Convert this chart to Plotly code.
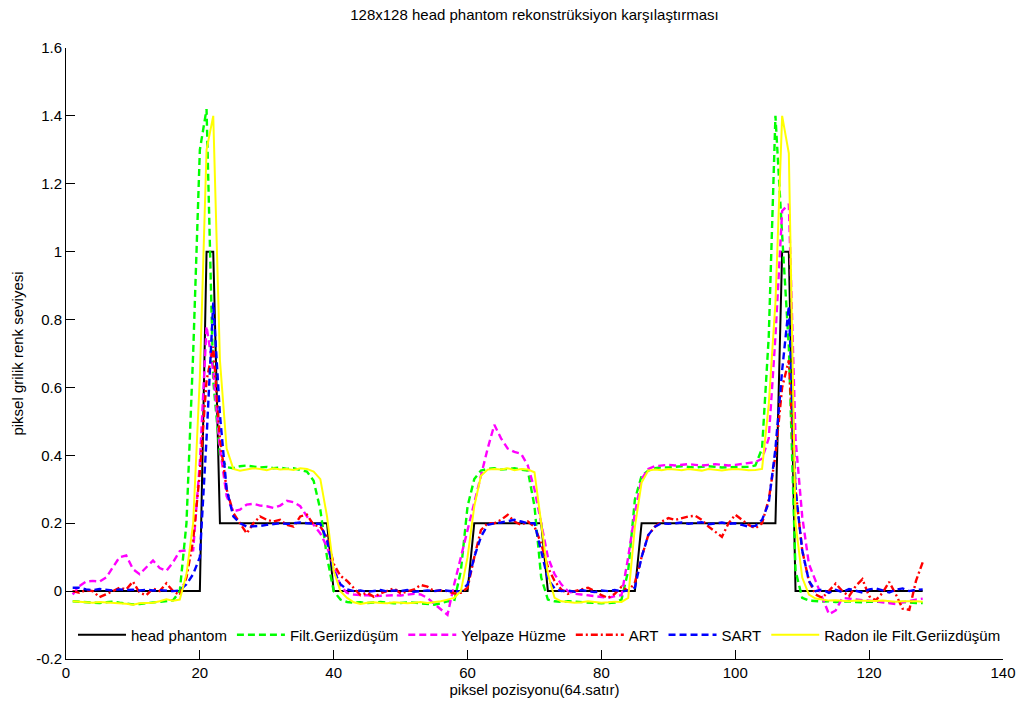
import plotly.graph_objects as go

# Pixel positions along row 64 of the 128x128 image
x_pos = list(range(1, 129))

series_names = ["head phantom", "Filt.Geriizdüşüm", "Yelpaze Hüzme", "ART", "SART",
                "Radon ile Filt.Geriizdüşüm"]

head_phantom = [
    0, 0, 0, 0, 0, 0, 0, 0, 0, 0,
    0, 0, 0, 0, 0, 0, 0, 0, 0, 0,
    1, 1, 0.2, 0.2, 0.2, 0.2, 0.2, 0.2, 0.2, 0.2,
    0.2, 0.2, 0.2, 0.2, 0.2, 0.2, 0.2, 0.2, 0.2, 0,
    0, 0, 0, 0, 0, 0, 0, 0, 0, 0,
    0, 0, 0, 0, 0, 0, 0, 0, 0, 0,
    0.2, 0.2, 0.2, 0.2, 0.2, 0.2, 0.2, 0.2, 0.2, 0.2,
    0.2, 0, 0, 0, 0, 0, 0, 0, 0, 0,
    0, 0, 0, 0, 0, 0.2, 0.2, 0.2, 0.2, 0.2,
    0.2, 0.2, 0.2, 0.2, 0.2, 0.2, 0.2, 0.2, 0.2, 0.2,
    0.2, 0.2, 0.2, 0.2, 0.2, 0.2, 1, 1, 0, 0,
    0, 0, 0, 0, 0, 0, 0, 0, 0, 0,
    0, 0, 0, 0, 0, 0, 0, 0,
]

filt_geriizdusum = [
    -0.030, -0.031, -0.032, -0.034, -0.035, -0.033, -0.031, -0.034, -0.037, -0.039,
    -0.038, -0.036, -0.035, -0.033, -0.030, -0.027, 0.000, 0.200, 0.700, 1.300,
    1.420, 0.620, 0.400, 0.365, 0.362, 0.368, 0.370, 0.366, 0.364, 0.366,
    0.362, 0.364, 0.360, 0.362, 0.358, 0.352, 0.325, 0.240, 0.100, 0.000,
    -0.025, -0.032, -0.034, -0.033, -0.035, -0.034, -0.032, -0.034, -0.036, -0.035,
    -0.033, -0.034, -0.036, -0.038, -0.040, -0.036, -0.030, -0.030, 0.060, 0.250,
    0.330, 0.355, 0.360, 0.362, 0.358, 0.360, 0.362, 0.358, 0.355, 0.250,
    0.040, -0.025, -0.030, -0.032, -0.030, -0.031, -0.033, -0.034, -0.035, -0.036,
    -0.035, -0.034, -0.025, 0.060, 0.270, 0.340, 0.355, 0.362, 0.365, 0.364,
    0.366, 0.368, 0.366, 0.364, 0.366, 0.368, 0.366, 0.364, 0.365, 0.366,
    0.365, 0.366, 0.370, 0.420, 0.750, 1.400, 1.050, 0.720, 0.060, -0.020,
    -0.028, -0.030, -0.031, -0.030, -0.032, -0.031, -0.030, -0.032, -0.033, -0.031,
    -0.032, -0.033, -0.034, -0.033, -0.032, -0.034, -0.035, -0.035,
]

yelpaze_huzme = [
    -0.010, 0.015, 0.028, 0.030, 0.028, 0.040, 0.070, 0.100, 0.105, 0.065,
    0.050, 0.070, 0.090, 0.068, 0.060, 0.085, 0.118, 0.120, 0.120, 0.380,
    0.780, 0.650, 0.420, 0.280, 0.235, 0.240, 0.255, 0.257, 0.252, 0.250,
    0.245, 0.252, 0.266, 0.262, 0.250, 0.220, 0.195, 0.170, 0.130, 0.070,
    0.015, -0.005, -0.010, -0.012, -0.012, -0.015, -0.014, -0.012, -0.012, -0.013,
    -0.010, -0.008, -0.010, -0.020, -0.037, -0.053, -0.070, 0.020, 0.100, 0.180,
    0.260, 0.340, 0.420, 0.490, 0.450, 0.420, 0.410, 0.405, 0.370, 0.300,
    0.200, 0.100, 0.050, 0.020, 0.000, -0.008, -0.010, -0.012, -0.015, -0.018,
    -0.020, -0.015, -0.012, 0.100, 0.230, 0.330, 0.360, 0.368, 0.370, 0.372,
    0.370, 0.372, 0.374, 0.372, 0.370, 0.372, 0.374, 0.372, 0.370, 0.372,
    0.374, 0.376, 0.380, 0.390, 0.450, 0.750, 1.120, 1.140, 0.450, 0.220,
    0.080, 0.030, -0.020, -0.068, -0.057, -0.020, -0.022, -0.025, -0.027, -0.028,
    -0.030, -0.033, -0.036, -0.038, -0.033, -0.028, -0.025, -0.022,
]

art = [
    0.000, -0.005, 0.003, 0.000, -0.018, -0.010, 0.000, 0.010, 0.005, 0.028,
    -0.005, -0.012, 0.008, 0.000, 0.023, 0.000, -0.012, 0.040, 0.150, 0.350,
    0.620, 0.720, 0.450, 0.300, 0.230, 0.200, 0.170, 0.200, 0.220, 0.210,
    0.205, 0.210, 0.195, 0.190, 0.220, 0.225, 0.195, 0.190, 0.160, 0.080,
    0.045, 0.030, 0.010, -0.012, -0.005, -0.017, -0.007, 0.000, 0.008, -0.007,
    0.000, 0.005, 0.018, 0.013, 0.000, 0.002, 0.000, -0.007, -0.005, 0.010,
    0.100, 0.180, 0.200, 0.200, 0.210, 0.225, 0.205, 0.195, 0.205, 0.190,
    0.140, 0.070, 0.030, 0.005, -0.008, 0.000, 0.005, 0.010, 0.000, -0.012,
    -0.020, -0.008, 0.013, 0.000, 0.025, 0.100, 0.165, 0.190, 0.205, 0.215,
    0.210, 0.215, 0.220, 0.222, 0.210, 0.190, 0.175, 0.160, 0.200, 0.225,
    0.210, 0.195, 0.185, 0.200, 0.270, 0.400, 0.600, 0.680, 0.300, 0.120,
    0.030, -0.010, -0.020, 0.000, 0.022, 0.000, -0.015, 0.015, 0.035, -0.015,
    -0.027, -0.005, 0.027, -0.010, -0.052, -0.055, 0.030, 0.085,
]

sart = [
    0.010, 0.010, 0.005, 0.003, 0.006, 0.004, 0.002, 0.005, 0.003, 0.004,
    0.002, 0.004, 0.002, 0.003, 0.001, 0.000, 0.002, 0.020, 0.050, 0.100,
    0.450, 0.850, 0.520, 0.300, 0.220, 0.200, 0.190, 0.190, 0.192, 0.195,
    0.198, 0.200, 0.198, 0.200, 0.202, 0.200, 0.200, 0.198, 0.150, 0.060,
    0.020, 0.005, 0.000, 0.002, -0.002, 0.001, 0.003, -0.001, 0.002, 0.000,
    0.003, -0.002, 0.001, 0.002, 0.000, 0.003, 0.001, -0.001, 0.000, 0.020,
    0.100, 0.160, 0.195, 0.200, 0.202, 0.205, 0.210, 0.205, 0.200, 0.200,
    0.120, 0.035, 0.008, 0.000, 0.002, -0.002, 0.003, 0.001, -0.003, 0.002,
    0.000, 0.003, -0.001, 0.002, 0.010, 0.100, 0.165, 0.190, 0.200, 0.198,
    0.200, 0.202, 0.198, 0.200, 0.203, 0.197, 0.200, 0.202, 0.198, 0.200,
    0.195, 0.190, 0.192, 0.210, 0.260, 0.420, 0.650, 0.840, 0.300, 0.120,
    0.030, 0.000, 0.005, -0.005, 0.004, -0.003, 0.006, 0.000, -0.004, 0.005,
    0.008, 0.002, -0.004, 0.004, 0.008, 0.000, 0.004, 0.005,
]

radon_filt = [
    -0.030, -0.032, -0.033, -0.034, -0.032, -0.033, -0.034, -0.035, -0.037, -0.040,
    -0.036, -0.035, -0.034, -0.030, -0.024, -0.028, -0.025, 0.050, 0.200, 0.630,
    1.300, 1.400, 0.680, 0.420, 0.360, 0.355, 0.358, 0.362, 0.360, 0.356,
    0.362, 0.358, 0.360, 0.357, 0.362, 0.360, 0.352, 0.330, 0.220, 0.060,
    0.000, -0.020, -0.033, -0.038, -0.034, -0.033, -0.035, -0.036, -0.033, -0.034,
    -0.036, -0.034, -0.032, -0.035, -0.033, -0.030, -0.025, -0.020, 0.000, 0.100,
    0.250, 0.340, 0.358, 0.360, 0.358, 0.362, 0.356, 0.360, 0.358, 0.350,
    0.200, 0.050, -0.020, -0.030, -0.032, -0.034, -0.033, -0.030, -0.032, -0.034,
    -0.033, -0.031, -0.032, -0.020, 0.190, 0.320, 0.355, 0.358, 0.356, 0.360,
    0.358, 0.356, 0.360, 0.358, 0.355, 0.360, 0.357, 0.355, 0.358, 0.360,
    0.358, 0.356, 0.357, 0.360, 0.550, 0.850, 1.400, 1.290, 0.200, 0.040,
    -0.010, -0.022, -0.025, -0.028, -0.027, -0.029, -0.030, -0.028, -0.029, -0.030,
    -0.029, -0.028, -0.030, -0.031, -0.030, -0.029, -0.030, -0.031,
]

x_ticks = [0, 20, 40, 60, 80, 100, 120, 140]
y_ticks = [-0.2, 0, 0.2, 0.4, 0.6, 0.8, 1, 1.2, 1.4, 1.6]
y_tick_labels = ["-0.2", "0", "0.2", "0.4", "0.6", "0.8", "1", "1.2", "1.4", "1.6"]

FONT = "Liberation Sans, Arial, Helvetica, sans-serif"

styles = [
    dict(color="#000000", dash="solid", width=2),
    dict(color="#00FF00", dash="7px,4px", width=2.4),
    dict(color="#FF00FF", dash="7px,4px", width=2.4),
    dict(color="#FF0000", dash="7px,3px,2px,3px", width=2.4),
    dict(color="#0000FF", dash="7px,4px", width=2.4),
    dict(color="#FFFF00", dash="solid", width=2),
]
values = [head_phantom, filt_geriizdusum, yelpaze_huzme, art, sart, radon_filt]

fig = go.Figure()
for name, ys, st in zip(series_names, values, styles):
    fig.add_trace(go.Scatter(
        x=x_pos, y=ys, name=name, mode="lines",
        line=dict(color=st["color"], dash=st["dash"], width=st["width"]),
    ))

fig.update_layout(
    width=1027, height=703,
    margin=dict(l=66, r=24, t=48, b=44),
    paper_bgcolor="white", plot_bgcolor="white",
    font=dict(family=FONT, size=15, color="black"),
    title=dict(text="128x128 head phantom rekonstrüksiyon karşılaştırması",
               x=0.5, xref="paper", xanchor="center",
               y=1 - 15 / 703, yref="container", yanchor="middle",
               font=dict(size=15)),
    showlegend=True,
    legend=dict(orientation="h", x=7 / 937, xanchor="left",
                y=24 / 611, yanchor="middle",
                bgcolor="rgba(0,0,0,0)", font=dict(size=15),
                itemwidth=48, tracegroupgap=0),
)

fig.update_xaxes(
    range=[0, 140], tickmode="array", tickvals=x_ticks,
    ticks="inside", ticklen=9, tickcolor="black", tickwidth=1,
    showline=True, linecolor="black", linewidth=1, mirror=False,
    showgrid=False, zeroline=False, automargin=False,
    title=dict(text="piksel pozisyonu(64.satır)", standoff=2, font=dict(size=15)),
)
fig.update_yaxes(
    range=[-0.2, 1.6], tickmode="array", tickvals=y_ticks, ticktext=y_tick_labels,
    ticks="inside", ticklen=9, tickcolor="black", tickwidth=1,
    showline=True, linecolor="black", linewidth=1, mirror=False,
    showgrid=False, zeroline=False, automargin=False,
    title=dict(text="piksel grilik renk seviyesi", standoff=8, font=dict(size=15)),
)

fig.write_html("out.html")
